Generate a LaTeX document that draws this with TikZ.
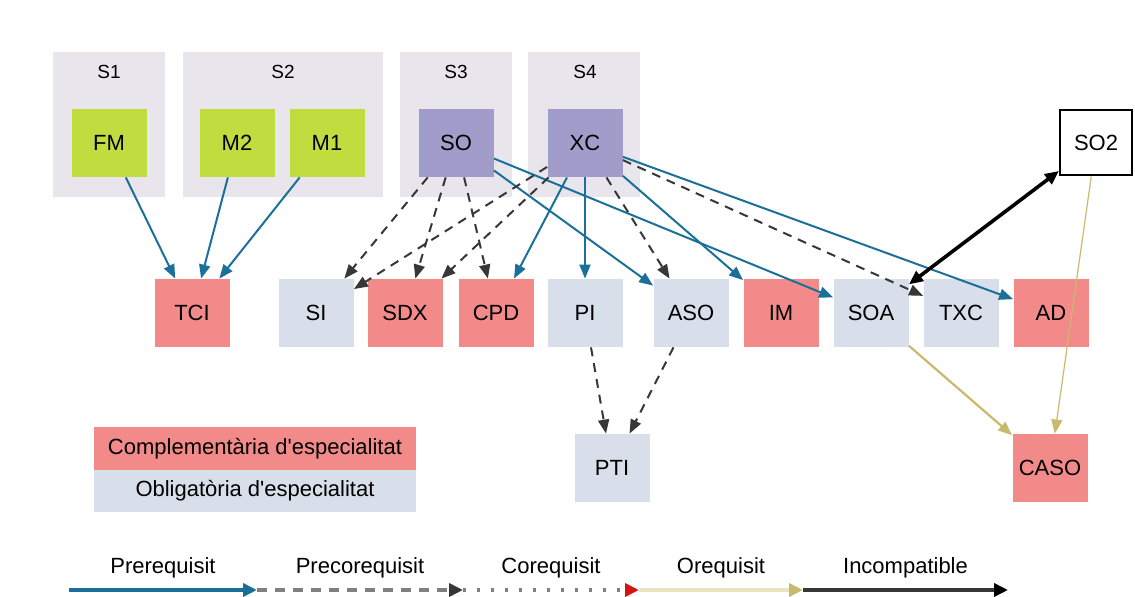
\documentclass[tikz,border=0pt]{standalone}
\usepackage{fontspec}
\setmainfont{Liberation Sans}
\usetikzlibrary{arrows.meta}
\definecolor{lima}{RGB}{192,221,64}
\definecolor{lilac}{RGB}{161,156,201}
\definecolor{rosa}{RGB}{242,138,138}
\definecolor{gris}{RGB}{216,222,234}
\definecolor{clus}{RGB}{233,229,237}
\definecolor{blau}{RGB}{27,112,153}
\definecolor{fosc}{RGB}{55,55,55}
\definecolor{ocre}{RGB}{200,185,110}
\definecolor{crema}{RGB}{232,228,190}
\definecolor{vermell}{RGB}{215,20,20}
\tikzset{
 box/.style={minimum width=37.5pt,minimum height=34pt,inner sep=0pt,font=\fontsize{11}{13}\selectfont},
 slabel/.style={font=\fontsize{9.5}{11}\selectfont},
 leg/.style={minimum width=161pt,minimum height=21.5pt,inner sep=0pt,font=\fontsize{11}{13}\selectfont},
 tip/.style={-{Triangle[length=7pt,width=5.5pt]}},
 pre/.style={tip,draw=blau,line width=1pt},
 prec/.style={tip,draw=fosc,line width=1pt,dash pattern=on 4.5pt off 3.5pt},
 ore/.style={tip,draw=ocre,line width=1.1pt},
}
\begin{document}
\begin{tikzpicture}[x=0.5pt,y=-0.5pt]
\useasboundingbox (0,0) rectangle (1135,597);
\foreach\a/\b in {53/165,183/383,400/512,528/640}
 \fill[clus] (\a,52) rectangle (\b,197);
\foreach\n/\x in {S1/109,S2/283,S3/456,S4/585}
 \node[slabel] (\n) at (\x,72) {\n};

\foreach\n/\x in {FM/109,M2/237,M1/327}
 \node[box,fill=lima] (\n) at (\x,143) {\n};
\foreach\n/\x in {SO/456,XC/585}
 \node[box,fill=lilac] (\n) at (\x,143) {\n};
\node[box,draw=black,fill=white,line width=1pt,minimum width=36pt,minimum height=32.5pt] (SO2) at (1096,143) {SO2};

\foreach\n/\x in {TCI/192,SDX/405,CPD/496,IM/781,AD/1051}
 \node[box,fill=rosa] (\n) at (\x,313) {\n};
\foreach\n/\x in {SI/316,PI/585,ASO/691,SOA/871,TXC/961}
 \node[box,fill=gris] (\n) at (\x,313) {\n};
\node[box,fill=gris] (PTI) at (612,468) {PTI};
\node[box,fill=rosa] (CASO) at (1050,468) {CASO};

\foreach\a in {FM,M2,M1}
 \draw[pre] (\a) -- (TCI);
\foreach\a/\b in {SO/ASO,SO/SOA,XC/CPD,XC/PI,XC/IM,XC/AD}
 \draw[pre] (\a) -- (\b);
\foreach\a/\b in {SO/SI,SO/SDX,SO/CPD,XC/SI,XC/SDX,XC/ASO,XC/TXC,PI/PTI,ASO/PTI}
 \draw[prec] (\a) -- (\b);
\draw[black,line width=1.8pt,{Triangle[length=7pt,width=6pt]}-{Triangle[length=7pt,width=6pt]}] (SOA) -- (SO2);
\draw[ore] (SOA) -- (CASO);
\draw[ore,line width=0.6pt] (SO2) -- (CASO);

\node[leg,fill=rosa] (comp) at (255,448.5) {Complementària d\textquotesingle especialitat};
\node[leg,fill=gris,minimum height=21pt] (oblig) at (255,491) {Obligatòria d\textquotesingle especialitat};

\foreach\n/\x in {l0/69,l1/257,l2/463,l3/639,l4/803,l5/1008}
 \coordinate (\n) at (\x,590);
\tikzset{lt/.style={-{Triangle[length=7pt,width=6.5pt,color=#1,fill=#1]},line width=2pt},
 lab/.style={above=1.5pt,font=\fontsize{11}{13}\selectfont}}
\draw[lt=blau,draw=blau] (l0) -- node[lab] (lpre) {Prerequisit} (l1);
\draw[lt=fosc,draw=gray,dash pattern=on 5pt off 4pt] (l1) -- node[lab] (lprec) {Precorequisit} (l2);
\draw[lt=vermell,draw=gray,dash pattern=on 1.5pt off 5.5pt] (l2) -- node[lab] (lco) {Corequisit} (l3);
\draw[lt=ocre,draw=crema] (l3) -- node[lab] (lore) {Orequisit} (l4);
\draw[lt=black,draw=fosc] (l4) -- node[lab] (linc) {Incompatible} (l5);
\end{tikzpicture}
\end{document}
